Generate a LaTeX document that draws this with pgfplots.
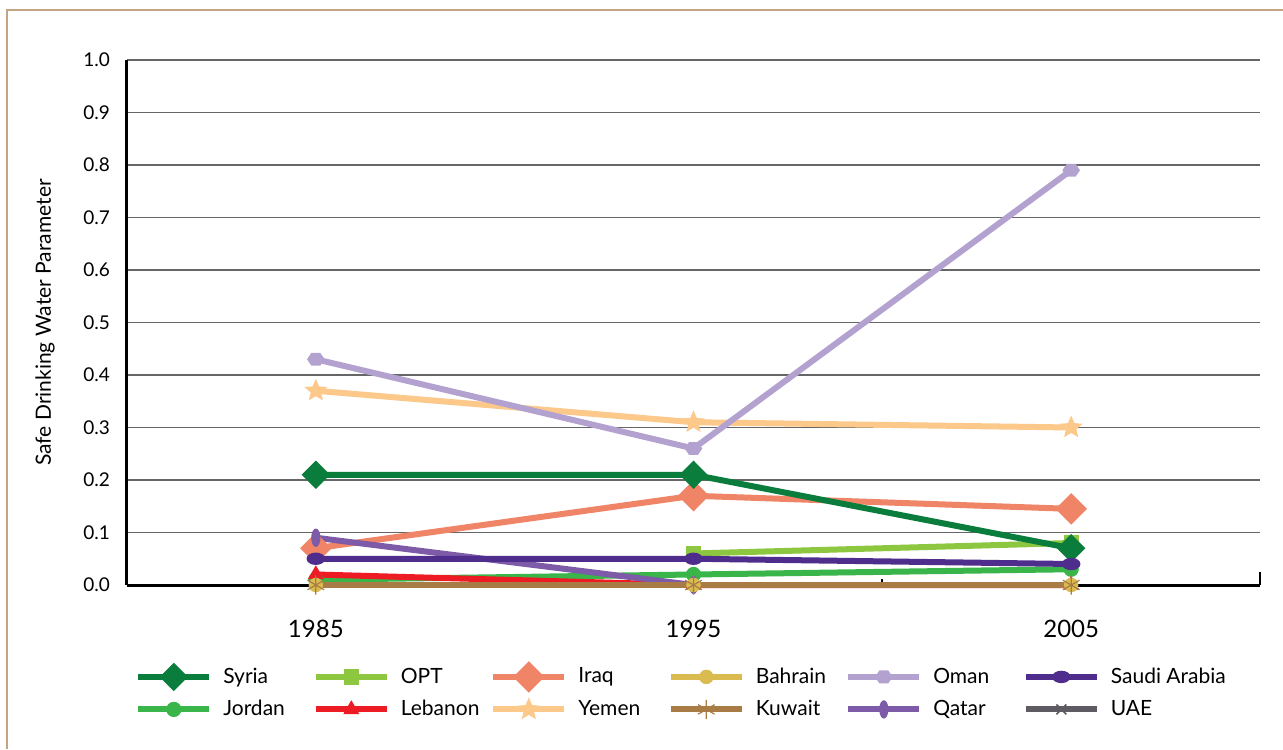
\documentclass[border=0pt]{standalone}
\usepackage{fontspec}
\setmainfont{Lato}
\usepackage{pgfplots}
\pgfplotsset{compat=1.18}

\definecolor{csyria}{HTML}{0A7D3C}
\definecolor{cjordan}{HTML}{39B54A}
\definecolor{copt}{HTML}{8DC63F}
\definecolor{cleb}{HTML}{ED1C24}
\definecolor{ciraq}{HTML}{F08466}
\definecolor{cyemen}{HTML}{FDC98A}
\definecolor{cbahrain}{HTML}{D9BB4F}
\definecolor{ckuwait}{HTML}{A97C46}
\definecolor{coman}{HTML}{B3A2D0}
\definecolor{cqatar}{HTML}{7E5BA8}
\definecolor{csaudi}{HTML}{4F2D8C}
\definecolor{cuae}{HTML}{5F5B62}
\definecolor{cframe}{HTML}{C4A484}

% filled five-point star
\pgfdeclareplotmark{fstar}{%
  \pgfpathmoveto{\pgfpointpolar{90}{\pgfplotmarksize}}%
  \pgfpathlineto{\pgfpointpolar{126}{0.45\pgfplotmarksize}}%
  \pgfpathlineto{\pgfpointpolar{162}{\pgfplotmarksize}}%
  \pgfpathlineto{\pgfpointpolar{198}{0.45\pgfplotmarksize}}%
  \pgfpathlineto{\pgfpointpolar{234}{\pgfplotmarksize}}%
  \pgfpathlineto{\pgfpointpolar{270}{0.45\pgfplotmarksize}}%
  \pgfpathlineto{\pgfpointpolar{306}{\pgfplotmarksize}}%
  \pgfpathlineto{\pgfpointpolar{342}{0.45\pgfplotmarksize}}%
  \pgfpathlineto{\pgfpointpolar{18}{\pgfplotmarksize}}%
  \pgfpathlineto{\pgfpointpolar{54}{0.45\pgfplotmarksize}}%
  \pgfpathclose\pgfusepathqfill}
% hexagon
\pgfdeclareplotmark{hexa}{%
  \pgfpathmoveto{\pgfpointpolar{0}{\pgfplotmarksize}}%
  \pgfpathlineto{\pgfpointpolar{60}{\pgfplotmarksize}}%
  \pgfpathlineto{\pgfpointpolar{120}{\pgfplotmarksize}}%
  \pgfpathlineto{\pgfpointpolar{180}{\pgfplotmarksize}}%
  \pgfpathlineto{\pgfpointpolar{240}{\pgfplotmarksize}}%
  \pgfpathlineto{\pgfpointpolar{300}{\pgfplotmarksize}}%
  \pgfpathclose\pgfusepathqfill}
% ellipses
\pgfdeclareplotmark{hell}{%
  \pgfpathellipse{\pgfpointorigin}{\pgfpoint{1.5\pgfplotmarksize}{0pt}}{\pgfpoint{0pt}{\pgfplotmarksize}}%
  \pgfusepathqfill}
\pgfdeclareplotmark{vell}{%
  \pgfpathellipse{\pgfpointorigin}{\pgfpoint{0.5\pgfplotmarksize}{0pt}}{\pgfpoint{0pt}{\pgfplotmarksize}}%
  \pgfusepathqfill}

\pgfplotsset{
  cty/.style={line width=3pt, mark options={solid, line width=0.4pt}},
  syria/.style={cty, color=csyria, mark=diamond*, mark size=5pt, mark options={xscale=1.33}},
  jordan/.style={cty, color=cjordan, mark=*, mark size=3.6pt},
  opt/.style={cty, color=copt, mark=square*, mark size=3.6pt},
  leb/.style={cty, color=cleb, mark=triangle*, mark size=4.2pt},
  iraq/.style={cty, color=ciraq, mark=diamond*, mark size=5.75pt, mark options={xscale=1.33}},
  yemen/.style={cty, color=cyemen, mark=fstar, mark size=6pt},
  bahrain/.style={cty, color=cbahrain, mark=*, mark size=3.4pt},
  kuwait/.style={cty, color=ckuwait, mark=asterisk, mark size=4.8pt, mark options={line width=0.6pt}},
  oman/.style={cty, color=coman, mark=hexa, mark size=4.4pt, mark options={yscale=0.85}},
  qatar/.style={cty, color=cqatar, mark=vell, mark size=4.6pt},
  saudi/.style={cty, color=csaudi, mark=hell, mark size=3.1pt},
  uae/.style={cty, color=cuae, mark=x, mark size=3.5pt, mark options={line width=0.8pt}},
}
\newcommand{\lgt}[1]{\makebox[44.75pt][l]{#1}}

\begin{document}
\begin{tikzpicture}
\useasboundingbox (-63.5pt,-82pt) rectangle (578pt,292.5pt);
\fill[white] (-63.5pt,-82pt) rectangle (578pt,292.5pt);
\draw[cframe, line width=1pt] (-60pt,-82pt) -- (-60pt,287.5pt) -- (578pt,287.5pt);
\begin{axis}[
    scale only axis,
    width=566.5pt, height=262.5pt,
    xmin=0, xmax=3, ymin=0, ymax=1,
    clip=false,
    axis x line*=bottom, axis y line*=left,
    axis line style={line width=1.5pt, -},
    xtick={0.5,1.5,2.5},
    xticklabels={1985,1995,2005},
    major tick length=0pt,
    extra x ticks={1,2},
    extra x tick labels={},
    extra x tick style={major tick length=3pt, tick align=inside, tick style={black, line width=1pt}},
    ytick={0,0.1,0.2,0.3,0.4,0.5,0.6,0.7,0.8,0.9,1},
    yticklabels={0.0,0.1,0.2,0.3,0.4,0.5,0.6,0.7,0.8,0.9,1.0},
    ymajorgrids,
    grid style={black!60, line width=0.75pt},
    xticklabel style={font=\fontsize{12}{14}\selectfont, yshift=-14pt},
    yticklabel style={font=\fontsize{9.5}{11}\selectfont, xshift=-5pt},
    ylabel={Safe Drinking Water Parameter},
    every axis y label/.style={at={(axis description cs:-0.0724,0.5)}, rotate=90, anchor=center, font=\fontsize{10.5}{12}\selectfont},
    legend columns=6,
    legend cell align=left,
    legend image code/.code={\draw[mark repeat=2, mark phase=2, #1] plot coordinates {(0pt,0pt) (17.75pt,0pt) (35.5pt,0pt)};},
    legend style={at={(axis description cs:0.007,-0.1524)}, anchor=north west, draw=none, fill=none, inner sep=0pt,
      font=\fontsize{10.5}{12}\selectfont, row sep=4.5pt,
      nodes={inner sep=0pt},
      /tikz/every odd column/.append style={column sep=5.5pt},
      /tikz/every even column/.append style={column sep=0pt}},
]
% drawing order chosen so the overlaps look like the original
\addplot[opt, forget plot] coordinates {(1.5,0.06) (2.5,0.08)};
\addplot[jordan, forget plot] coordinates {(0.5,0.01) (1.5,0.02) (2.5,0.03)};
\addplot[leb, forget plot] coordinates {(0.5,0.02) (1.5,0.0) (2.5,0.0)};
\addplot[iraq, forget plot] coordinates {(0.5,0.07) (1.5,0.17) (2.5,0.145)};
\addplot[qatar, forget plot] coordinates {(0.5,0.09) (1.5,0.0)};
\addplot[yemen, forget plot] coordinates {(0.5,0.37) (1.5,0.31) (2.5,0.30)};
\addplot[bahrain, forget plot] coordinates {(0.5,0.0) (1.5,0.0) (2.5,0.0)};
\addplot[kuwait, forget plot] coordinates {(0.5,0.0) (1.5,0.0) (2.5,0.0)};
\addplot[oman, forget plot] coordinates {(0.5,0.43) (1.5,0.26) (2.5,0.79)};
\addplot[syria, forget plot] coordinates {(0.5,0.21) (1.5,0.21) (2.5,0.07)};
\addplot[saudi, forget plot] coordinates {(0.5,0.05) (1.5,0.05) (2.5,0.04)};

\draw[black, line width=1pt] (axis cs:3,0) -- ++(0,6.5pt);

\addlegendimage{syria}\addlegendentry{\lgt{Syria}}
\addlegendimage{opt}\addlegendentry{\lgt{OPT}}
\addlegendimage{iraq}\addlegendentry{\lgt{Iraq}}
\addlegendimage{bahrain}\addlegendentry{\lgt{Bahrain}}
\addlegendimage{oman}\addlegendentry{\lgt{Oman}}
\addlegendimage{saudi}\addlegendentry{\lgt{Saudi Arabia}}
\addlegendimage{jordan}\addlegendentry{\lgt{Jordan}}
\addlegendimage{leb}\addlegendentry{\lgt{Lebanon}}
\addlegendimage{yemen}\addlegendentry{\lgt{Yemen}}
\addlegendimage{kuwait}\addlegendentry{\lgt{Kuwait}}
\addlegendimage{qatar}\addlegendentry{\lgt{Qatar}}
\addlegendimage{uae}\addlegendentry{\lgt{UAE}}
\end{axis}
\end{tikzpicture}
\end{document}
